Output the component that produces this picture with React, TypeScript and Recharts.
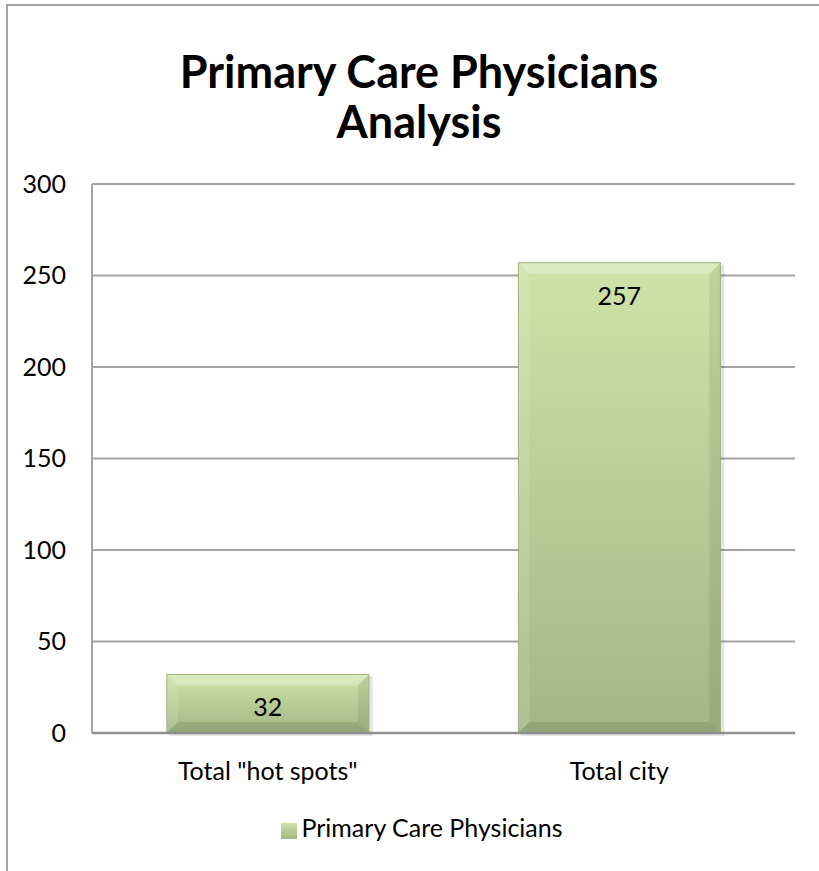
import React from 'react';
import {
	BarChart,
	Bar,
	XAxis,
	YAxis,
	CartesianGrid,
	Legend,
	LabelList,
} from 'recharts';

const categories = ['Total "hot spots"', 'Total city'];
const physicians = [32, 257];
const yTicks = [0, 50, 100, 150, 200, 250, 300];
const SERIES_NAME = 'Primary Care Physicians';

const data = categories.map((name, i) => ({ name, value: physicians[i] }));

const FONT = 'Lato, "Open Sans", sans-serif';
const GRID = '#a3a3a3';

// Excel-style bevelled bar
const BevelBar = (props: any) => {
	const { x, y, width, height } = props;
	if (!height || height <= 0) return null;
	const b = Math.min(11, height / 2, width / 2);
	const r = x + width;
	const btm = y + height;
	return (
		<g>
			<rect x={x + 2} y={y + 2} width={width + 2} height={height + 1} fill="#000" opacity={0.1} />
			<rect x={x} y={y} width={width} height={height} fill="url(#barGrad)" />
			<polygon points={`${x},${y} ${r},${y} ${r - b},${y + b} ${x + b},${y + b}`} fill="#fff" opacity={0.3} />
			<polygon points={`${x},${y} ${x + b},${y + b} ${x + b},${btm - b} ${x},${btm}`} fill="#fff" opacity={0.12} />
			<polygon points={`${r},${y} ${r},${btm} ${r - b},${btm - b} ${r - b},${y + b}`} fill="#000" opacity={0.07} />
			<polygon points={`${x},${btm} ${r},${btm} ${r - b},${btm - b} ${x + b},${btm - b}`} fill="#000" opacity={0.1} />
			<rect x={x} y={y} width={width} height={height} fill="none" stroke="#9cb07f" strokeWidth={1} />
		</g>
	);
};

const ValueLabel = (props: any) => {
	const { x, y, width, value } = props;
	return (
		<text
			x={x + width / 2}
			y={y + 42}
			textAnchor="middle"
			fontFamily={FONT}
			fontSize={25}
			fill="#000"
		>
			{value}
		</text>
	);
};

export default function App() {
	return (
		<div style={{ position: 'absolute', left: 0, top: 0, width: 819, height: 871, background: '#fff' }}>
			<div
				style={{
					position: 'absolute',
					left: 6,
					top: 4,
					width: 813,
					height: 867,
					borderLeft: `2px solid ${GRID}`,
					borderTop: `2px solid ${GRID}`,
				}}
			/>
			<BarChart
				width={819}
				height={871}
				data={data}
				margin={{ top: 184, right: 24, bottom: 29, left: 32 }}
				barCategoryGap="21.3%"
			>
				<defs>
					<linearGradient id="barGrad" x1="0" y1="0" x2="0" y2="1">
						<stop offset="0%" stopColor="#cde3a7" />
						<stop offset="100%" stopColor="#a2b784" />
					</linearGradient>
				</defs>
				<text x={419} y={88} textAnchor="middle" fontFamily={FONT} fontSize={45} fontWeight="bold" fill="#000">
					Primary Care Physicians
				</text>
				<text x={419} y={138} textAnchor="middle" fontFamily={FONT} fontSize={45} fontWeight="bold" fill="#000">
					Analysis
				</text>
				<CartesianGrid vertical={false} stroke={GRID} strokeWidth={2} />
				<XAxis
					dataKey="name"
					height={79}
					tickLine={false}
					tickSize={0}
					tickMargin={29}
					axisLine={{ stroke: '#8f8f8f', strokeWidth: 2.5 }}
					tick={{ fontFamily: FONT, fontSize: 25, fill: '#000' }}
				/>
				<YAxis
					width={60}
					domain={[0, 300]}
					ticks={yTicks}
					interval={0}
					tickLine={false}
					tickSize={0}
					tickMargin={26}
					axisLine={{ stroke: GRID, strokeWidth: 2 }}
					tick={{ fontFamily: FONT, fontSize: 25, fill: '#000' }}
				/>
				<Legend
					verticalAlign="bottom"
					align="center"
					iconType="square"
					iconSize={16}
					wrapperStyle={{ left: 24, width: 806, fontFamily: FONT, fontSize: 25 }}
					formatter={(v: string) => <span style={{ color: '#000' }}>{v}</span>}
				/>
				<Bar
					dataKey="value"
					name={SERIES_NAME}
					fill="url(#barGrad)"
					shape={<BevelBar />}
					isAnimationActive={false}
				>
					<LabelList dataKey="value" content={<ValueLabel />} />
				</Bar>
			</BarChart>
		</div>
	);
}
